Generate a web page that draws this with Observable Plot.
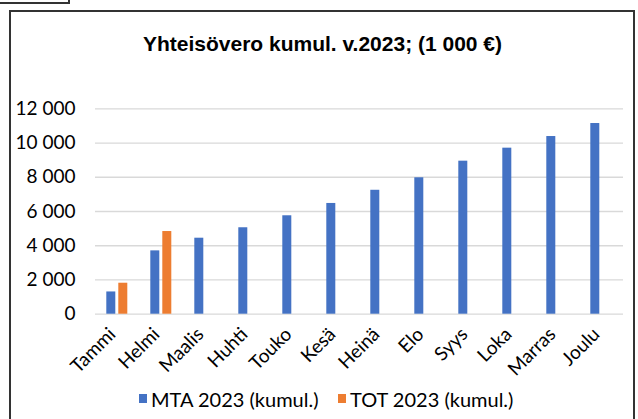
<!DOCTYPE html>
<html><head><meta charset="utf-8">
<script src="https://cdn.jsdelivr.net/npm/d3@7"></script>
<script src="https://cdn.jsdelivr.net/npm/@observablehq/plot@0.6"></script>
<style>
body{margin:0;background:#fff;}
#wrap{position:relative;width:638px;height:419px;overflow:hidden;background:#fff;}
#frag{position:absolute;left:-10px;top:-10px;width:78px;height:12px;border-right:2px solid #333;border-bottom:2px solid #333;}
#frame{position:absolute;left:9px;top:10px;width:622px;height:440px;border:2px solid #333;}
#title{position:absolute;left:0;width:645px;top:32.7px;text-align:center;font:bold 21px "Liberation Sans",Arial,sans-serif;line-height:21px;color:#000;white-space:nowrap;}
#chart{position:absolute;left:0;top:0;}
.leg{position:absolute;top:389px;font:20px Lato,sans-serif;line-height:20px;color:#000;white-space:nowrap;}
.sw{position:absolute;top:5px;width:8px;height:9px;}
</style></head>
<body>
<div id="wrap">
  <div id="frag"></div>
  <div id="frame"></div>
  <div id="chart"></div>
  <div id="title">Yhteisövero kumul. v.2023; (1 000 €)</div>
</div>
<script>
const months = ["Tammi","Helmi","Maalis","Huhti","Touko","Kesä","Heinä","Elo","Syys","Loka","Marras","Joulu"];
const mta = [1300,3700,4440,5050,5750,6470,7240,7970,8940,9700,10380,11140];
const tot = [1810,4830];
const seriesNames = ["MTA 2023 (kumul.)","TOT 2023 (kumul.)"];
const colors = ["#4472C4","#ED7D31"];
const yTicks = [0,2000,4000,6000,8000,10000,12000];

const rows = [
  ...months.map((m,i)=>({month:m, series:seriesNames[0], value:mta[i]})),
  ...tot.map((v,i)=>({month:months[i], series:seriesNames[1], value:v}))
];

const chart = Plot.plot({
  width:638, height:419,
  marginTop:108.3, marginBottom:105.3, marginLeft:91.7, marginRight:11.3,
  style:{fontFamily:"Lato, sans-serif", fontSize:"19px", color:"#000", background:"transparent", overflow:"visible"},
  fx:{domain:months, padding:0, label:null, axis:null},
  x:{domain:seriesNames, axis:null, paddingInner:0.24, paddingOuter:0.87},
  y:{domain:[0,12000], ticks:yTicks, tickFormat:d=>d3.format(",")(d).replace(/,/g,"\u00a0"), tickSize:0, tickPadding:20, label:null},
  color:{domain:seriesNames, range:colors},
  marks:[
    Plot.gridY(yTicks, {stroke:"#d9d9d9", strokeOpacity:1, strokeWidth:1.3}),
    Plot.barY(rows, {fx:"month", x:"series", y:"value", fill:"series"}),
    Plot.axisFx({anchor:"bottom", tickRotate:-45, tickSize:0, tickPadding:17, dx:-5, label:null, fontSize:19})
  ]
});
document.getElementById("chart").appendChild(chart);

const wrap = document.getElementById("wrap");
const legX = [139, 338];
seriesNames.forEach((name,i)=>{
  const d = document.createElement("div");
  d.className = "leg";
  d.style.left = legX[i] + "px";
  d.style.paddingLeft = "12px";
  const sw = document.createElement("span");
  sw.className = "sw";
  sw.style.left = "0px";
  sw.style.background = colors[i];
  d.appendChild(sw);
  d.appendChild(document.createTextNode(name));
  wrap.appendChild(d);
});
</script>
</body></html>
